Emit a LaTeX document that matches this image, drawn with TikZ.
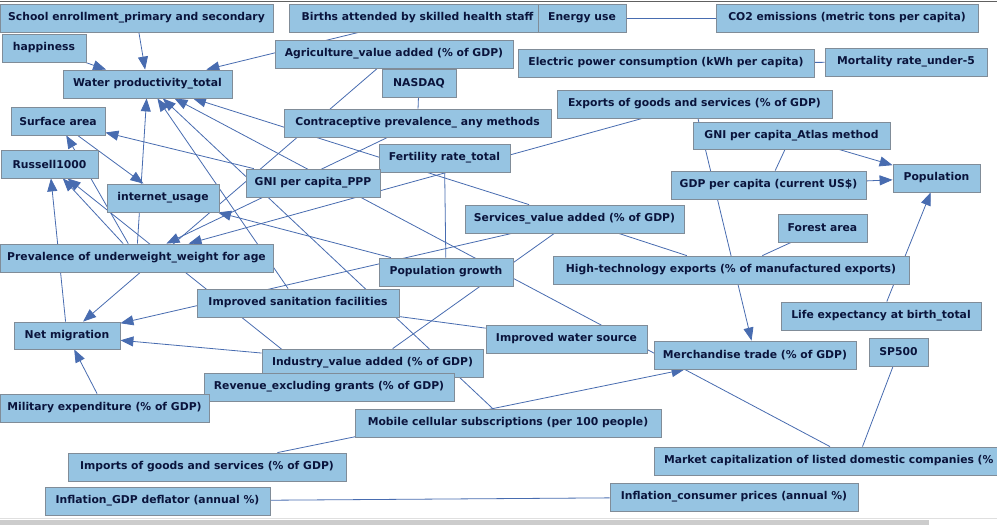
\documentclass[tikz,border=0pt]{standalone}
\usepackage{fontspec}
\setmainfont{DejaVu Sans}
\usetikzlibrary{arrows.meta,backgrounds}
\definecolor{nodefill}{RGB}{150,196,226}
\definecolor{nodeborder}{RGB}{128,140,152}
\definecolor{nodetext}{RGB}{10,20,60}
\definecolor{edgecol}{RGB}{72,108,176}
\begin{document}
\begin{tikzpicture}[x=1pt,y=-1pt,
  box/.style={draw=nodeborder, fill=nodefill, line width=0.8pt, rectangle, minimum height=28pt, inner sep=0pt, font=\fontsize{10.8}{12}\selectfont\bfseries, text=nodetext},
  dedge/.style={draw=edgecol, line width=0.8pt, -{Triangle[length=13pt,width=10pt]}},
  uedge/.style={draw=edgecol, line width=0.8pt}]
\useasboundingbox (0,0) rectangle (997,525);
% nodes
\node[box,minimum width=273pt] (SCH) at (136.5,18) {School enrollment\_primary and secondary};
\node[box,minimum width=257pt] (BIR) at (417.5,18) {Births attended by skilled health staff};
\node[box,minimum width=88pt] (ENE) at (582,18) {Energy use};
\node[box,minimum width=262pt] (CO2) at (847,18) {CO2 emissions (metric tons per capita)};
\node[box,minimum width=84pt] (HAP) at (44,48) {happiness};
\node[box,minimum width=238pt] (AGR) at (394,54) {Agriculture\_value added (\% of GDP)};
\node[box,minimum width=296pt] (ELE) at (666,63) {Electric power consumption (kWh per capita)};
\node[box,minimum width=162pt] (MOR) at (906,62) {Mortality rate\_under-5};
\node[box,minimum width=169pt] (WAT) at (147.5,84) {Water productivity\_total};
\node[box,minimum width=74pt] (NAS) at (419,83) {NASDAQ};
\node[box,minimum width=275pt] (EXP) at (694.5,104) {Exports of goods and services (\% of GDP)};
\node[box,minimum width=94pt] (SUR) at (58,121) {Surface area};
\node[box,minimum width=267pt] (CON) at (417.5,123) {Contraceptive prevalence\_ any methods};
\node[box,minimum width=197pt,minimum height=27pt] (ATL) at (791.5,135.5) {GNI per capita\_Atlas method};
\node[box,minimum width=131pt] (FER) at (444.5,158) {Fertility rate\_total};
\node[box,minimum width=97pt] (RUS) at (49.5,164) {Russell1000};
\node[box,minimum width=134pt] (PPP) at (313,183) {GNI per capita\_PPP};
\node[box,minimum width=195pt] (GDP) at (768.5,185) {GDP per capita (current US\$)};
\node[box,minimum width=87pt] (POP) at (936.5,178) {Population};
\node[box,minimum width=112pt] (INT) at (163,198) {internet\_usage};
\node[box,minimum width=219pt] (SER) at (574.5,219) {Services\_value added (\% of GDP)};
\node[box,minimum width=89pt] (FOR) at (822.5,228) {Forest area};
\node[box,minimum width=273pt] (PRE) at (136.5,258) {Prevalence of underweight\_weight for age};
\node[box,minimum width=134pt] (PGR) at (446,272) {Population growth};
\node[box,minimum width=356pt] (HIT) at (731,270) {High-technology exports (\% of manufactured exports)};
\node[box,minimum width=202pt] (SAN) at (298,303) {Improved sanitation facilities};
\node[box,minimum width=200pt] (LIF) at (881,316) {Life expectancy at birth\_total};
\node[box,minimum width=106pt,minimum height=27pt] (NET) at (67,335.5) {Net migration};
\node[box,minimum width=161pt] (WSR) at (566.5,339) {Improved water source};
\node[box,minimum width=221pt] (IND) at (372.5,363) {Industry\_value added (\% of GDP)};
\node[box,minimum width=202pt] (MER) at (755,355) {Merchandise trade (\% of GDP)};
\node[box,minimum width=59pt] (SP5) at (898.5,352) {SP500};
\node[box,minimum width=250pt] (REV) at (329,387) {Revenue\_excluding grants (\% of GDP)};
\node[box,minimum width=209pt] (MIL) at (104.5,408) {Military expenditure (\% of GDP)};
\node[box,minimum width=306pt] (MOB) at (508,423) {Mobile cellular subscriptions (per 100 people)};
\node[box,minimum width=278pt] (IMP) at (207,467) {Imports of goods and services (\% of GDP)};
\node[box,minimum width=406pt,text width=386pt,align=left] (MKT) at (857,461) {Market capitalization of listed domestic companies (\% of GDP)};
\node[box,minimum width=225pt] (GDE) at (157.5,501) {Inflation\_GDP deflator (annual \%)};
\node[box,minimum width=248pt] (CPI) at (734,497) {Inflation\_consumer prices (annual \%)};
% frame lines
\draw[gray!75!black, line width=1pt] (0,1) -- (997,1);
\draw[gray!25, line width=1pt] (0,518.5) -- (997,518.5);
\fill[gray!40] (0,520) rectangle (929,525);
\begin{pgfonlayer}{background}
\fill[white] (0,0) rectangle (997,525);
% directed edges
\draw[dedge] (SCH) -- (WAT);
\draw[dedge] (HAP) -- (WAT);
\draw[dedge] (BIR) -- (WAT);
\draw[dedge] (PRE) -- (WAT);
\draw[dedge] (SAN) -- (WAT);
\draw[dedge] (MOB) -- (WAT);
\draw[dedge] (MKT) -- (WAT);
\draw[dedge] (SER) -- (WAT);
\draw[dedge] (PPP) -- (SUR);
\draw[dedge] (PRE) -- (SUR);
\draw[dedge] (SUR) -- (INT);
\draw[dedge] (PGR) -- (INT);
\draw[dedge] (NET) -- (RUS);
\draw[dedge] (PRE) -- (RUS);
\draw[dedge] (REV) -- (RUS);
\draw[dedge] (CON) -- (PRE);
\draw[dedge] (EXP) -- (PRE);
\draw[dedge] (AGR) -- (NET);
\draw[dedge] (SER) -- (NET);
\draw[dedge] (IND) -- (NET);
\draw[dedge] (MIL) -- (NET);
\draw[dedge] (EXP) -- (MER);
\draw[dedge] (IMP) -- (MER);
\draw[dedge] (ATL) -- (POP);
\draw[dedge] (GDP) -- (POP);
\draw[dedge] (LIF) -- (POP);
% undirected edges
\draw[uedge] (ENE) -- (CO2);
\draw[uedge] (ELE) -- (MOR);
\draw[uedge] (ATL) -- (GDP);
\draw[uedge] (FOR) -- (HIT);
\draw[uedge] (SER) -- (HIT);
\draw[uedge] (IND) -- (SER);
\draw[uedge] (FER) -- (PGR);
\draw[uedge] (NAS) -- (CON);
\draw[uedge] (SAN) -- (WSR);
\draw[uedge] (SP5) -- (MKT);
\draw[uedge] (GDE) -- (CPI);
\end{pgfonlayer}
\end{tikzpicture}
\end{document}
